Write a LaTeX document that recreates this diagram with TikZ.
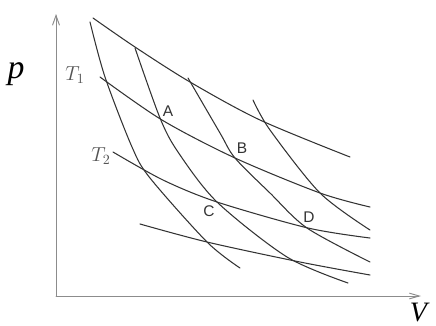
\documentclass[tikz,border=0pt]{standalone}
\usepackage{fontspec}
\setmainfont{Liberation Serif}
\newfontfamily\ptfont{Liberation Sans}
\usetikzlibrary{arrows.meta}
\definecolor{curve}{HTML}{333333}
\definecolor{axis}{HTML}{8C8C8C}
\tikzset{
  every picture/.style={line join=round, line cap=round, >=Stealth},
  iso/.style={curve, line width=0.75pt},
  axisline/.style={axis, line width=0.7pt},
  ptlabel/.style={font=\ptfont\fontsize{11}{11}\selectfont, text=curve, inner sep=0pt},
  tlabel/.style={font=\fontsize{14}{14}\selectfont, text=axis!60!black, inner sep=0pt},
}

\begin{document}
\begin{tikzpicture}[x=0.025cm,y=-0.025cm]
\useasboundingbox (0,0) rectangle (436,325);
% axes
\coordinate (O) at (56,296);
\coordinate (ytop) at (56,14);
\coordinate (xend) at (421,296);
\draw[axisline,-{Straight Barb[length=7pt,width=5pt]}](O)--(ytop);
\draw[axisline,-{Straight Barb[length=7pt,width=4pt]}](O)--(xend);
\node[inner sep=0pt] (p) at (16,74) {\fontsize{24}{24}\selectfont\textit{p}};
\node[inner sep=0pt,anchor=east] (V) at (430,312) {\fontsize{20}{20}\selectfont\textit{V}};
\node[tlabel] (T1) at (75,75) {$T_1$};
\node[tlabel] (T2) at (101,156) {$T_2$};
% isotherms
\draw[iso] plot[smooth] coordinates {(93,18) (135,47) (190,82) (260,120) (350,157)};
\draw[iso] plot[smooth] coordinates {(100,77) (162,120) (235,158) (320,193) (370,207)};
\draw[iso] plot[smooth] coordinates {(113,152) (163,180) (217,202) (308,228) (370,238)};
\draw[iso] plot[smooth] coordinates {(140,224) (207,242) (300,262) (370,275)};
% adiabats
\draw[iso] plot[smooth] coordinates {(90,22) (105,77) (132,147) (150,178) (207,242) (240,268)};
\draw[iso] plot[smooth] coordinates {(135,48) (160,118) (178,152) (217,202) (287,257) (348,283)};
\draw[iso] plot[smooth] coordinates {(188,78) (220,133) (235,158) (270,193) (307,228) (370,262)};
\draw[iso] plot[smooth] coordinates {(253,100) (270,130) (320,193) (370,230)};
% points
\node[ptlabel] (A) at (168,111) {A};
\node[ptlabel] (B) at (242,148) {B};
\node[ptlabel] (C) at (209,211) {C};
\node[ptlabel] (D) at (309,217) {D};
\end{tikzpicture}
\end{document}
